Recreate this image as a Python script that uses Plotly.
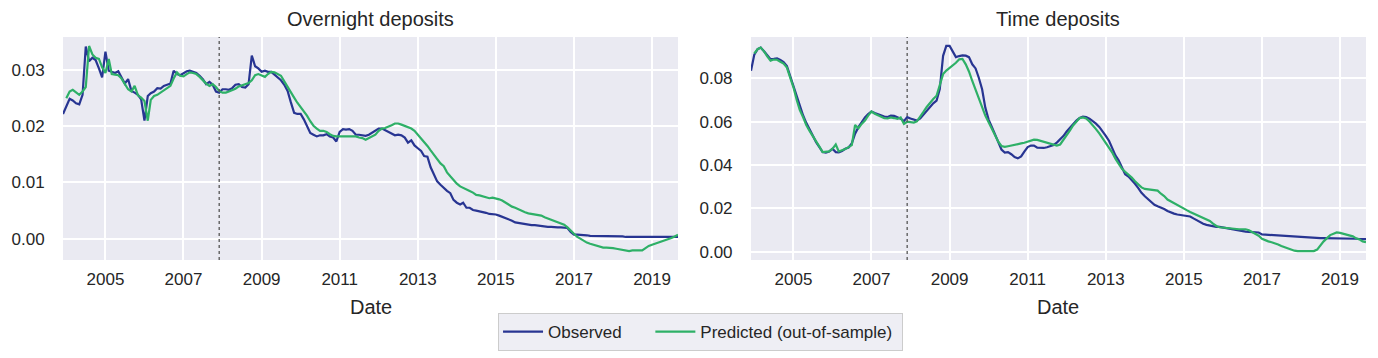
import pandas as pd
import plotly.graph_objects as go

# ---------------- data ----------------
START_MONTH = "2003-12-01"
N_MONTHS = 190
SPLIT_DATE = "2007-12-01"
PANEL_TITLES = ["Overnight deposits", "Time deposits"]
X_LABEL = "Date"
SERIES_NAMES = ["Observed", "Predicted (out-of-sample)"]
TICK_YEARS = [2005, 2007, 2009, 2011, 2013, 2015, 2017, 2019]

obs_overnight = [
    .0222, .0237, .0249, .0246, .0241, .0239, .0256, .0342, .0316, .0322,
    .0318, .0303, .0287, .0333, .0299, .0297, .0295, .0298, .0288, .0276,
    .0284, .0263, .0260, .0256, .0248, .0210, .0254, .0259, .0262, .0268,
    .0267, .0272, .0274, .0276, .0299, .0293, .0291, .0294, .0298, .0299,
    .0297, .0295, .0290, .0284, .0275, .0279, .0274, .0262, .0260, .0266,
    .0266, .0265, .0268, .0274, .0275, .0270, .0269, .0275, .0326, .0307,
    .0303, .0297, .0299, .0297, .0297, .0292, .0286, .0282, .0274, .0263,
    .0243, .0224, .0222, .0222, .0212, .0199, .0188, .0185, .0182, .0184,
    .0184, .0186, .0182, .0180, .0173, .0190, .0195, .0194, .0195, .0192,
    .0185, .0185, .0184, .0183, .0185, .0189, .0193, .0196, .0196, .0193,
    .0190, .0186, .0184, .0185, .0184, .0180, .0171, .0175, .0166, .0161,
    .0156, .0147, .0146, .0127, .0113, .0102, .0096, .0090, .0085, .0081,
    .0069, .0064, .0061, .0064, .0055, .0055, .0051, .0050, .0049, .0047,
    .0046, .0044, .0044, .0043, .0041, .0039, .0037, .0035, .0032, .0029,
    .0028, .0027, .0026, .0024, .0024, .0024, .0023, .0023, .0022, .0021,
    .0021, .0020, .0020, .0020, .0019, .0019, .0012, .0007, .0007, .0007,
    .0006, .0006, .0005, .0005, .0005, .0005, .0004, .0004, .0004, .0004,
    .0004, .0004, .0004, .0003, .0003, .0003, .0003, .0003, .0003, .0003,
    .0003, .0003, .0003, .0003, .0003, .0003, .0003, .0003, .0003, .0003,
]

pred_overnight = [
    None, .0250, .0262, .0265, .0261, .0256, .0262, .0270, .0343, .0328,
    .0322, .0320, .0305, .0295, .0320, .0293, .0292, .0291, .0285, .0276,
    .0266, .0262, .0272, .0255, .0251, .0245, .0210, .0247, .0254, .0256,
    .0260, .0265, .0269, .0272, .0285, .0296, .0290, .0289, .0293, .0296,
    .0295, .0293, .0288, .0282, .0276, .0272, .0275, .0270, .0263, .0260,
    .0260, .0262, .0264, .0267, .0271, .0273, .0275, .0277, .0282, .0291,
    .0293, .0290, .0288, .0293, .0297, .0296, .0293, .0290, .0280, .0271,
    .0261, .0251, .0242, .0234, .0227, .0219, .0209, .0201, .0196, .0192,
    .0192, .0190, .0186, .0183, .0182, .0182, .0182, .0182, .0182, .0182,
    .0182, .0180, .0179, .0176, .0179, .0182, .0185, .0192, .0196, .0197,
    .0199, .0202, .0205, .0205, .0203, .0201, .0199, .0196, .0192, .0185,
    .0179, .0173, .0165, .0157, .0149, .0141, .0134, .0129, .0118, .0111,
    .0104, .0098, .0093, .0090, .0087, .0085, .0082, .0078, .0077, .0075,
    .0074, .0072, .0073, .0072, .0070, .0068, .0064, .0060, .0057, .0055,
    .0052, .0050, .0047, .0045, .0044, .0043, .0042, .0041, .0038, .0036,
    .0034, .0032, .0030, .0027, .0025, .0020, .0014, .0008, .0003, .0000,
    -.0004, -.0007, -.0009, -.0011, -.0013, -.0015, -.0016, -.0016, -.0016, -.0017,
    -.0018, -.0019, -.0020, -.0021, -.0022, -.0021, -.0021, -.0021, -.0021, -.0017,
    -.0013, -.0011, -.0009, -.0008, -.0006, -.0004, -.0002, .0001, .0004, .0007,
]

obs_time = [
    .0835, .0910, .0935, .0942, .0925, .0905, .0889, .0890, .0892, .0885,
    .0875, .0857, .0810, .0766, .0715, .0675, .0630, .0595, .0563, .0532,
    .0506, .0483, .0460, .0457, .0462, .0475, .0460, .0459, .0465, .0475,
    .0481, .0500, .0545, .0575, .0600, .0620, .0635, .0647, .0640, .0634,
    .0628, .0624, .0622, .0628, .0627, .0622, .0614, .0603, .0621, .0615,
    .0609, .0605, .0615, .0632, .0646, .0667, .0685, .0697, .0751, .0904,
    .0950, .0950, .0922, .0898, .0903, .0906, .0905, .0898, .0865, .0846,
    .0803, .0750, .0665, .0610, .0575, .0545, .0510, .0472, .0458, .0460,
    .0450, .0437, .0431, .0440, .0462, .0483, .0490, .0490, .0480, .0479,
    .0479, .0482, .0487, .0493, .0504, .0518, .0534, .0555, .0574, .0588,
    .0605, .0617, .0624, .0622, .0614, .0604, .0591, .0576, .0558, .0535,
    .0511, .0476, .0445, .0422, .0385, .0358, .0347, .0332, .0314, .0294,
    .0272, .0256, .0242, .0227, .0217, .0210, .0205, .0197, .0188, .0181,
    .0176, .0172, .0170, .0169, .0167, .0163, .0154, .0145, .0136, .0129,
    .0124, .0120, .0116, .0115, .0115, .0112, .0108, .0106, .0104, .0101,
    .0098, .0096, .0093, .0092, .0092, .0090, .0089, .0080, .0079, .0078,
    .0077, .0076, .0075, .0073, .0072, .0071, .0070, .0068, .0067, .0066,
    .0066, .0065, .0064, .0064, .0063, .0063, .0063, .0063, .0063, .0062,
    .0061, .0061, .0061, .0060, .0060, .0060, .0060, .0059, .0058, .0058,
]

pred_time = [
    None, .0915, .0935, .0942, .0925, .0902, .0882, .0887, .0886, .0877,
    .0868, .0850, .0805, .0759, .0700, .0655, .0622, .0585, .0558, .0532,
    .0512, .0485, .0460, .0460, .0463, .0475, .0495, .0463, .0468, .0474,
    .0483, .0492, .0585, .0570, .0590, .0605, .0628, .0647, .0637, .0630,
    .0621, .0616, .0615, .0620, .0617, .0613, .0620, .0590, .0600, .0598,
    .0596, .0602, .0622, .0645, .0668, .0688, .0705, .0720, .0766, .0820,
    .0836, .0848, .0858, .0872, .0888, .0890, .0865, .0832, .0788, .0745,
    .0705, .0660, .0628, .0598, .0568, .0540, .0508, .0488, .0484, .0487,
    .0491, .0494, .0497, .0500, .0503, .0508, .0513, .0517, .0516, .0512,
    .0508, .0503, .0499, .0494, .0490, .0495, .0515, .0535, .0560, .0583,
    .0603, .0617, .0620, .0615, .0601, .0585, .0566, .0546, .0525, .0506,
    .0481, .0459, .0430, .0405, .0383, .0369, .0356, .0342, .0325, .0310,
    .0297, .0290, .0288, .0288, .0287, .0282, .0268, .0257, .0241, .0232,
    .0223, .0215, .0207, .0199, .0191, .0184, .0177, .0170, .0163, .0157,
    .0150, .0142, .0130, .0119, .0113, .0111, .0110, .0109, .0107, .0105,
    .0104, .0104, .0104, .0099, .0092, .0082, .0074, .0060, .0052, .0048,
    .0044, .0040, .0034, .0027, .0021, .0014, .0010, .0005, .0003, .0003,
    .0003, .0003, .0003, .0003, .0010, .0030, .0048, .0063, .0077, .0083,
    .0089, .0087, .0082, .0079, .0076, .0071, .0062, .0057, .0048, .0044,
]

# ---------------- figure ----------------
dates = pd.date_range(START_MONTH, periods=N_MONTHS, freq="MS")
OBS_COLOR = "#283592"
PRED_COLOR = "#2eb067"
FONT = "Liberation Sans, Arial, sans-serif"
TXT = "#262626"
NBSP = "\u00a0"  # visual spacing inside the legend
DOMAINS = [(0, 0.472), (0.528, 1)]

fig = go.Figure()
panels = [(obs_overnight, pred_overnight, "x", "y"), (obs_time, pred_time, "x2", "y2")]
for i, (obs, pred, xa, ya) in enumerate(panels):
    fig.add_trace(go.Scatter(x=dates, y=obs, mode="lines", name=SERIES_NAMES[0] + NBSP * 5,
                             line=dict(color=OBS_COLOR, width=2.2), xaxis=xa, yaxis=ya,
                             showlegend=(i == 0), legendgroup="obs"))
    fig.add_trace(go.Scatter(x=dates, y=pred, mode="lines", name=SERIES_NAMES[1] + NBSP,
                             line=dict(color=PRED_COLOR, width=2.2), xaxis=xa, yaxis=ya,
                             showlegend=(i == 0), legendgroup="pred"))

tickvals = [pd.Timestamp(f"{y}-01-01") for y in TICK_YEARS]
ticktext = [str(y) for y in TICK_YEARS]
xcommon = dict(type="date", range=[dates[0], dates[-1]], tickvals=tickvals, ticktext=ticktext,
               showgrid=True, gridcolor="white", gridwidth=1.6, zeroline=False, showline=False,
               ticks="outside", ticklen=4, tickcolor="rgba(0,0,0,0)", automargin=False,
               tickfont=dict(size=17, color=TXT, family=FONT))
ycommon = dict(showgrid=True, gridcolor="white", gridwidth=1.6, zeroline=False, showline=False,
               tickformat=".2f", ticks="outside", ticklen=14, tickcolor="rgba(0,0,0,0)",
               automargin=False, tickfont=dict(size=17, color=TXT, family=FONT))

# page body has an 8px default margin, so the figure is sized/offset to compensate
fig.update_layout(
    width=1370, height=350,
    margin=dict(l=55, r=12, t=29, b=98, autoexpand=False),
    paper_bgcolor="white", plot_bgcolor="#EAEAF2",
    font=dict(family=FONT, color=TXT),
    xaxis=dict(domain=list(DOMAINS[0]), anchor="y", **xcommon),
    xaxis2=dict(domain=list(DOMAINS[1]), anchor="y2", **xcommon),
    yaxis=dict(anchor="x", range=[-0.0038, 0.0359], dtick=0.01, **ycommon),
    yaxis2=dict(anchor="x2", range=[-0.0038, 0.0991], dtick=0.02, **ycommon),
    legend=dict(orientation="h", xref="container", yref="container",
                x=0.5055, xanchor="center", y=0.074, yanchor="middle",
                itemwidth=40,
                font=dict(size=17, color=TXT, family=FONT),
                bgcolor="#EEEEF4", bordercolor="#CCCCCC", borderwidth=1),
    showlegend=True,
)

for xa, ya in [("x", "y"), ("x2", "y2")]:
    fig.add_shape(type="line", xref=xa, yref=f"{ya} domain", x0=SPLIT_DATE, x1=SPLIT_DATE,
                  y0=0, y1=1, line=dict(color="#555555", width=1.3, dash="dot"), layer="above")

for title, (d0, d1) in zip(PANEL_TITLES, DOMAINS):
    fig.add_annotation(text=title, x=(d0 + d1) / 2, y=1, xref="paper", yref="paper",
                       xanchor="center", yanchor="bottom", yshift=5, showarrow=False,
                       font=dict(size=20, color=TXT, family=FONT))
    fig.add_annotation(text=X_LABEL, x=(d0 + d1) / 2, y=0, xref="paper", yref="paper",
                       xanchor="center", yanchor="middle", yshift=-47, showarrow=False,
                       font=dict(size=20, color=TXT, family=FONT))

fig.write_html("out.html")
